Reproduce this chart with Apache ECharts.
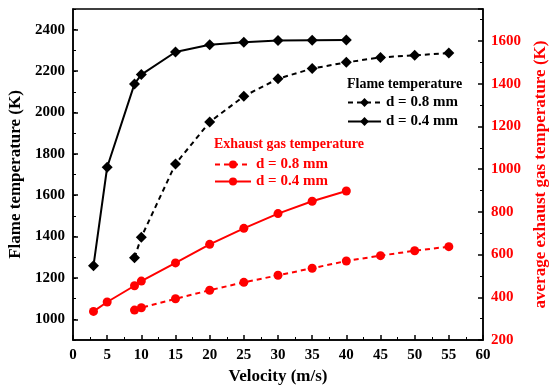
<!DOCTYPE html>
<html><head><meta charset="utf-8">
<script src="https://cdn.jsdelivr.net/npm/echarts@6/dist/echarts.min.js"></script>
<style>html,body{margin:0;padding:0;background:#fff}#c{width:550px;height:387px}</style>
</head><body><div id="c"></div>
<script>
const flame08X = [9, 10, 15, 20, 25, 30, 35, 40, 45, 50, 55];
const flame08Y = [1298, 1397, 1751, 1954, 2078, 2163, 2212, 2242, 2266, 2276, 2287];
const flame04X = [3, 5, 9, 10, 15, 20, 25, 30, 35, 40];
const flame04Y = [1259, 1735, 2138, 2183, 2292, 2327, 2339, 2348, 2349, 2350];
const exh08X = [9, 10, 15, 20, 25, 30, 35, 40, 45, 50, 55];
const exh08Y = [340, 351, 393, 433, 470, 503, 536, 570, 595, 618, 637];
const exh04X = [3, 5, 9, 10, 15, 20, 25, 30, 35, 40];
const exh04Y = [334, 378, 454, 476, 561, 648, 723, 792, 850, 898];
const leftTicks = [1000, 1200, 1400, 1600, 1800, 2000, 2200, 2400];

const legendLabels = {f08: 'd = 0.8 mm', f04: 'd = 0.4 mm', e08: 'd = 0.8 mm', e04: 'd = 0.4 mm'};
const pairs = (xs, ys) => xs.map((x, i) => [x, ys[i]]);
const FONT = 'Liberation Serif';
const RED = '#ff0000';

const chart = echarts.init(document.getElementById('c'));
chart.setOption({
  animation: false,
  backgroundColor: '#fff',
  grid: {left: 73, right: 67, top: 9, bottom: 47, show: true, borderColor: '#000', borderWidth: 1.5,
    containLabel: false, outerBoundsMode: 'none'},
  xAxis: {
    type: 'value', min: 0, max: 60, interval: 5,
    name: 'Velocity (m/s)', nameLocation: 'middle', nameGap: 25,
    nameTextStyle: {fontFamily: FONT, fontWeight: 'bold', fontSize: 17, color: '#000'},
    axisLine: {lineStyle: {color: '#000', width: 1.5}},
    axisTick: {inside: true, length: 5, lineStyle: {color: '#000', width: 1.5}},
    minorTick: {show: true, splitNumber: 2, length: 3, lineStyle: {color: '#000', width: 1}},
    axisLabel: {fontFamily: FONT, fontWeight: 'bold', fontSize: 15, color: '#000', margin: 8, formatter: v => String(v)},
    splitLine: {show: false}
  },
  yAxis: [{
    type: 'value', min: 900, max: 2500, interval: 100,
    name: 'Flame temperature (K)', nameLocation: 'middle', nameGap: 41,
    nameTextStyle: {fontFamily: FONT, fontWeight: 'bold', fontSize: 17, color: '#000'},
    axisLine: {show: true, lineStyle: {color: '#000', width: 1.5}},
    axisTick: {show: true, inside: true, length: 5, customValues: leftTicks, lineStyle: {color: '#000', width: 1.5}},
    minorTick: {show: false},
    axisLabel: {fontFamily: FONT, fontWeight: 'bold', fontSize: 15, color: '#000', margin: 8, customValues: leftTicks,
      formatter: v => String(v)},
    splitLine: {show: false}
  }, {
    type: 'value', min: 200, max: 1750, interval: 200, position: 'right',
    name: 'average exhaust gas temperature (K)', nameLocation: 'middle', nameGap: 43, nameRotate: 90,
    nameTextStyle: {fontFamily: FONT, fontWeight: 'bold', fontSize: 17, color: RED},
    axisLine: {show: true, lineStyle: {color: '#000', width: 1.5}},
    axisTick: {show: true, inside: true, length: 5, lineStyle: {color: '#000', width: 1.5}},
    minorTick: {show: true, splitNumber: 2, length: 3, lineStyle: {color: '#000', width: 1}},
    axisLabel: {fontFamily: FONT, fontWeight: 'bold', fontSize: 15, color: RED, margin: 8,
      formatter: v => (v <= 1600 ? String(v) : '')},
    splitLine: {show: false}
  }, {
    type: 'value', min: 900, max: 2500, interval: 100, position: 'left',
    axisLine: {show: false},
    axisTick: {show: true, inside: true, length: 3, lineStyle: {color: '#000', width: 1}},
    axisLabel: {show: false},
    splitLine: {show: false}
  }],
  legend: [{
    data: ['f08', 'f04'], orient: 'vertical', left: 342, top: 90, itemWidth: 33, itemHeight: 11, itemGap: 4,
    formatter: n => legendLabels[n],
    textStyle: {fontFamily: FONT, fontWeight: 'bold', fontSize: 15, color: '#000'}
  }, {
    data: ['e08', 'e04'], orient: 'vertical', left: 209, top: 152, itemWidth: 36, itemHeight: 10, itemGap: 2,
    formatter: n => legendLabels[n],
    textStyle: {fontFamily: FONT, fontWeight: 'bold', fontSize: 15, color: RED}
  }],
  graphic: [
    {type: 'text', left: 347, top: 77, style: {text: 'Flame temperature', font: 'bold 14px "Liberation Serif"', fill: '#000'}},
    {type: 'text', left: 214, top: 137, style: {text: 'Exhaust gas temperature', font: 'bold 14px "Liberation Serif"', fill: RED}}
  ],
  series: [
    {name: 'f08', type: 'line', yAxisIndex: 0, data: pairs(flame08X, flame08Y), symbol: 'diamond', symbolSize: 11,
      lineStyle: {color: '#000', width: 2, type: [5, 4]}, itemStyle: {color: '#000'}},
    {name: 'f04', type: 'line', yAxisIndex: 0, data: pairs(flame04X, flame04Y), symbol: 'diamond', symbolSize: 11,
      lineStyle: {color: '#000', width: 2}, itemStyle: {color: '#000'}},
    {name: 'e08', type: 'line', yAxisIndex: 1, data: pairs(exh08X, exh08Y), symbol: 'circle', symbolSize: 9,
      lineStyle: {color: RED, width: 2, type: [5, 4]}, itemStyle: {color: RED}},
    {name: 'e04', type: 'line', yAxisIndex: 1, data: pairs(exh04X, exh04Y), symbol: 'circle', symbolSize: 9,
      lineStyle: {color: RED, width: 2}, itemStyle: {color: RED}}
  ]
});
</script></body></html>
